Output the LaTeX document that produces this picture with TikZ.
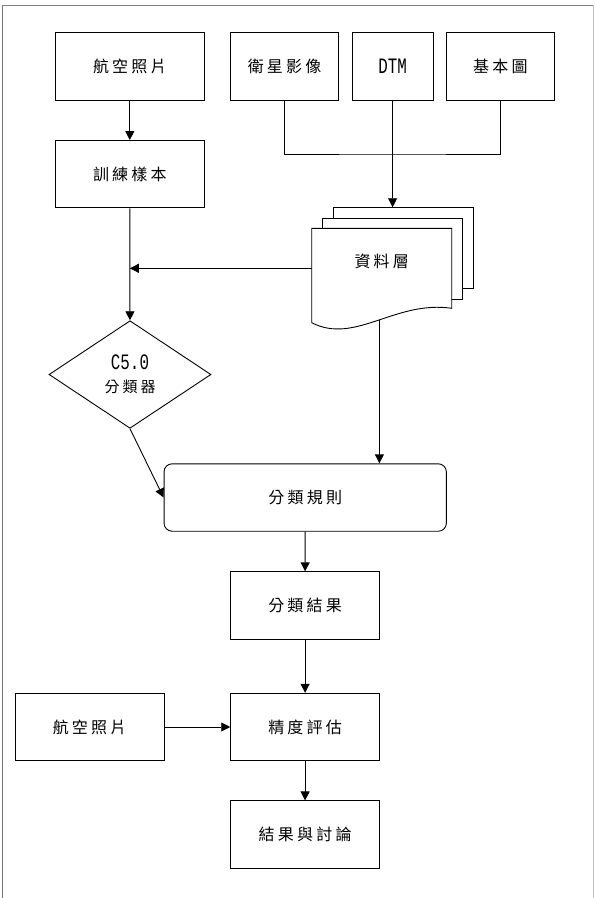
\documentclass[tikz,border=0pt]{standalone}
\usepackage{fontspec}
\usepackage{tikz}
\usetikzlibrary{shapes.geometric}
\usetikzlibrary{arrows.meta}
\setmainfont{Noto Sans CJK TC}
\newfontfamily\cjkfont[LetterSpace=20]{Noto Sans CJK TC}
\newfontfamily\narrowfont[FakeStretch=0.72]{Liberation Mono}

\begin{document}
\begin{tikzpicture}[x=1pt,y=-1pt,line width=0.9pt,>={Triangle[length=9pt,width=9pt]},
	box/.style={draw,rectangle,inner sep=0pt,minimum width=148.8pt,minimum height=67.4pt,font=\fontsize{16}{19}\selectfont\cjkfont},
	sheet/.style={draw,fill=white,rectangle,inner sep=0pt,minimum width=140pt,minimum height=81pt}]
			\useasboundingbox (0,0) rectangle (595,898);
			\draw[line width=1pt,black!55] (2,898)--(2,5);
			\draw[line width=1pt,black!50] (2,5)--(593,5);
			\draw[line width=1pt,black!25] (593,5)--(593,898);
			\node[box] (0) at (129.8,66.4) {航空照片};
			\node[box,minimum width=108pt] (1) at (284.6,66.4) {衛星影像};
			\node[box,minimum width=81pt,font=\fontsize{22}{24}\selectfont\narrowfont] (2) at (392.6,66.4) {DTM};
			\node[box,minimum width=108pt] (3) at (500.4,66.4) {基本圖};
			\node[box] (4) at (129.8,174.2) {訓練樣本};
			\node[sheet] (5a) at (403.3,248.2) {};
			\node[sheet] (5b) at (392.5,258.8) {};
			\coordinate (5l) at (311.7,268.3);
			\coordinate (5d) at (379.4,300);
			\coordinate (j) at (392.6,154);
			\node[draw,diamond,inner sep=0pt,minimum width=162pt,minimum height=107.6pt,align=center] (6) at (130,374.5)
				{{\fontsize{22}{24}\selectfont\narrowfont C5.0}\\[9pt]{\fontsize{15}{18}\selectfont\cjkfont 分類器}};
			\node[box,rounded corners=8pt,minimum width=282.3pt] (7) at (305.2,497.5) {分類規則};
			\node[box] (8) at (305.1,605.5) {分類結果};
			\node[box] (9) at (305.1,727) {精度評估};
			\node[box] (10) at (89.6,727) {航空照片};
			\node[box] (11) at (305.1,834.6) {結果與討論};
			\draw [->] (0)--(4);
			\draw (1.south) |- (j) -| (3.south);
			\draw [->] (2)--(2 |- 5a.north);
			\draw [->] (5d)--(5d |- 7.north);
			\draw[fill=white] (311.7,228.3)--(451.7,228.3)--(451.7,308.3) .. controls (395,300) and (355,345) .. (311.7,322.7)--cycle;
			\node[font=\fontsize{16}{19}\selectfont\cjkfont] (5) at (381.7,261) {資料層};
			\draw [->] (5l)--(4 |- 5l);
			\draw [->] (4)--(6);
			\draw [->] (6.south)--(7.west);
			\draw [->] (7)--(8);
			\draw [->] (8)--(9);
			\draw [->] (10)--(9);
			\draw [->] (9)--(11);
			\end{tikzpicture}
\end{document}
